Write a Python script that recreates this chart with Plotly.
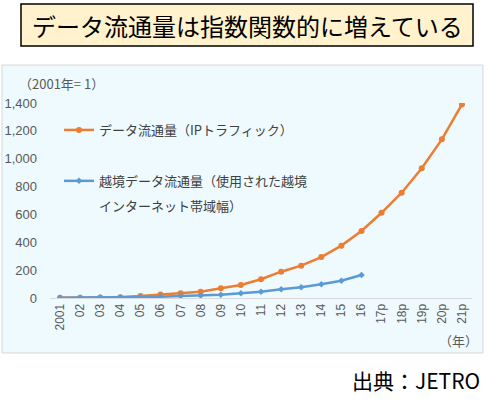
import plotly.graph_objects as go

years = ["2001", "02", "03", "04", "05", "06", "07", "08", "09", "10", "11",
         "12", "13", "14", "15", "16", "17p", "18p", "19p", "20p", "21p"]
ip_traffic = [1, 2, 3, 6, 15, 26, 34, 45, 70, 93, 135,
              189, 232, 294, 376, 481, 612, 756, 931, 1139, 1390]
cross_border_years = years[:16]
cross_border = [1, 2, 3, 4, 6, 9, 14, 17, 24, 34, 45, 62, 77, 98, 124, 165]

name_ip = "データ流通量（IPトラフィック）"
name_cb = "越境データ流通量（使用された越境"
name_cb_cont = "インターネット帯域幅）"

JP = "Noto Sans CJK JP"
W, H = 497, 411
L, R, T, B = 50, 472, 103, 298


def px(x):
    return (x - L) / (R - L)


def py(y):
    return (B - y) / (B - T)


fig = go.Figure()
fig.add_trace(go.Scatter(
    x=years, y=ip_traffic, name=name_ip, mode="lines+markers",
    line=dict(color="#ED7D31", width=2.5),
    marker=dict(color="#ED7D31", size=6), legendgroup="a"))
fig.add_trace(go.Scatter(
    x=cross_border_years, y=cross_border, name=name_cb, mode="lines+markers",
    line=dict(color="#5B9BD5", width=2.5),
    marker=dict(color="#5B9BD5", size=5, symbol="diamond"), legendgroup="b"))

fig.update_layout(
    width=W, height=H,
    margin=dict(l=L, r=W - R, t=T, b=H - B, autoexpand=False),
    paper_bgcolor="white", plot_bgcolor="rgba(0,0,0,0)",
    font=dict(family=JP, color="#595959"),
    showlegend=True,
    legend=dict(x=px(59), y=py(115), xanchor="left", yanchor="top",
                bgcolor="rgba(0,0,0,0)", font=dict(size=13, color="#404040", family=JP),
                tracegroupgap=31, valign="top", itemwidth=30),
    xaxis=dict(type="category", range=[-0.5, 20.5], tickangle=-90,
               showline=True, linecolor="#D9D9D9", linewidth=1,
               showgrid=False, ticks="", tickfont=dict(size=12, family="Liberation Sans", color="#595959")),
    yaxis=dict(range=[0, 1400], dtick=200, tickformat=",", showgrid=False,
               zeroline=False, showline=False, ticks="", ticklabelstandoff=12,
               tickfont=dict(size=13, family="Liberation Sans", color="#595959")),
    shapes=[
        dict(type="rect", xref="paper", yref="paper", layer="below",
             x0=px(2), x1=px(483), y0=py(353), y1=py(65),
             fillcolor="#EEFAFD", line=dict(color="#D9D9D9", width=1)),
        dict(type="rect", xref="paper", yref="paper", layer="below",
             x0=px(21), x1=px(473), y0=py(46), y1=py(4),
             fillcolor="#FFF2CC", line=dict(color="#000000", width=1.5)),
    ],
    annotations=[
        dict(text="データ流通量は指数関数的に増えている", xref="paper", yref="paper",
             x=px(247), y=py(25), xanchor="center", yanchor="middle", showarrow=False,
             font=dict(size=24, color="#000000", family=JP)),
        dict(text="（2001年= 1）", xref="paper", yref="paper",
             x=px(17), y=py(84), xanchor="left", yanchor="middle", showarrow=False,
             font=dict(size=13, color="#595959", family=JP)),
        dict(text=name_cb_cont, xref="paper", yref="paper",
             x=px(97), y=py(205), xanchor="left", yanchor="middle", showarrow=False,
             font=dict(size=13, color="#404040", family=JP)),
        dict(text="（年）", xref="paper", yref="paper",
             x=px(480), y=py(340), xanchor="right", yanchor="middle", showarrow=False,
             font=dict(size=13, color="#595959", family=JP)),
        dict(text="出典：JETRO", xref="paper", yref="paper",
             x=px(482), y=py(380), xanchor="right", yanchor="middle", showarrow=False,
             font=dict(size=21, color="#000000", family=JP)),
    ],
)

fig.write_html("out.html", config={"displayModeBar": False},
               post_script="document.body.style.margin='0';")
